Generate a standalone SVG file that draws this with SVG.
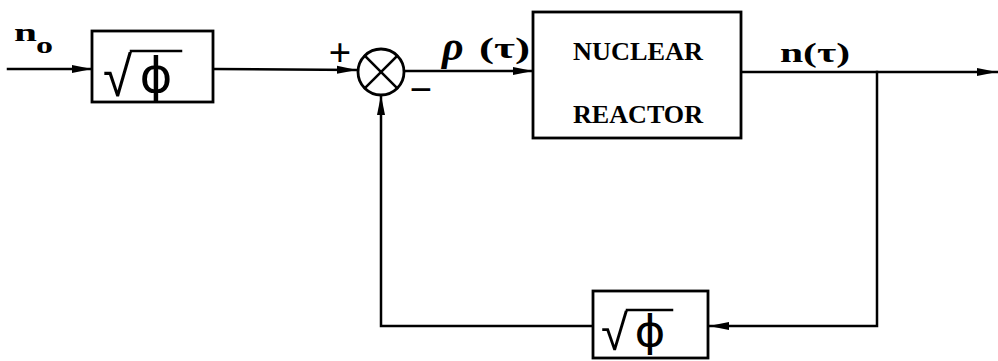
<svg xmlns="http://www.w3.org/2000/svg" width="998" height="361" viewBox="0 0 998 361">
<style>
.ln{fill:none;stroke:#000;stroke-width:2.5;stroke-linecap:square}
.bx{fill:#fff;stroke:#000;stroke-width:2.8}
.tw{font-family:"Liberation Serif","DejaVu Serif",serif;font-weight:bold;fill:#000}
.hw{font-family:"Liberation Sans","DejaVu Sans",sans-serif;fill:#000}
.ph{font-family:"DejaVu Sans","Liberation Sans",sans-serif;fill:#000}
</style>
<defs>
<marker id="ah" viewBox="0 0 20 10" refX="20" refY="5" markerWidth="20" markerHeight="10" markerUnits="userSpaceOnUse" orient="auto">
<path d="M0,1 L20,5 L0,9 Z" fill="#000"/>
</marker>
</defs>
<rect width="998" height="361" fill="#fff"/>
<g id="connectors">
<line class="ln" x1="8" y1="69" x2="92" y2="69" marker-end="url(#ah)"/>
<line class="ln" x1="213" y1="69" x2="357" y2="70" marker-end="url(#ah)"/>
<line class="ln" x1="404" y1="71" x2="533" y2="71" marker-end="url(#ah)"/>
<line class="ln" x1="741" y1="72" x2="997" y2="72" marker-end="url(#ah)"/>
<polyline class="ln" points="877,72 877,326 709,326" marker-end="url(#ah)"/>
<polyline class="ln" points="593,326 381,326 381,95" marker-end="url(#ah)"/>
</g>
<g id="input-label">
<text class="tw" x="14" y="41" font-size="26" textLength="23" lengthAdjust="spacingAndGlyphs">n</text>
<text class="tw" x="36" y="53" font-size="24" textLength="17" lengthAdjust="spacingAndGlyphs">o</text>
</g>
<g id="sqrt-phi-forward">
<rect class="bx" x="92" y="31" width="121" height="71"/>
<text class="hw" x="103" y="96" font-size="56" textLength="29" lengthAdjust="spacingAndGlyphs">√</text>
<line class="ln" x1="131" y1="51" x2="181" y2="51"/>
<text class="ph" x="156" y="92" font-size="48" text-anchor="middle" textLength="33" lengthAdjust="spacingAndGlyphs">ϕ</text>
</g>
<g id="summing-junction">
<circle cx="381" cy="72" r="23" fill="#fff" stroke="#000" stroke-width="2.8"/>
<line class="ln" x1="365" y1="56" x2="397" y2="88"/>
<line class="ln" x1="397" y1="56" x2="365" y2="88"/>
<text class="tw" x="340" y="66" font-size="40" text-anchor="middle">+</text>
<text class="tw" x="421" y="103" font-size="40" text-anchor="middle">−</text>
</g>
<g id="rho-label">
<text x="442" y="60" font-family="Liberation Serif, serif" font-style="italic" font-weight="bold" font-size="42">ρ</text>
<text x="479" y="58" font-family="Liberation Serif, serif" font-weight="bold" font-size="30" textLength="51" lengthAdjust="spacingAndGlyphs">(τ)</text>
</g>
<g id="nuclear-reactor">
<rect class="bx" x="533" y="12" width="208" height="126"/>
<text class="tw" x="638" y="60" font-size="26" text-anchor="middle" textLength="130" lengthAdjust="spacingAndGlyphs">NUCLEAR</text>
<text class="tw" x="638" y="123" font-size="26" text-anchor="middle" textLength="130" lengthAdjust="spacingAndGlyphs">REACTOR</text>
</g>
<g id="output-label">
<text class="tw" x="780" y="62" font-size="28" textLength="70" lengthAdjust="spacingAndGlyphs">n(τ)</text>
</g>
<g id="sqrt-phi-feedback">
<rect class="bx" x="593" y="291" width="115" height="67"/>
<text class="hw" x="601" y="350" font-size="50" textLength="27" lengthAdjust="spacingAndGlyphs">√</text>
<line class="ln" x1="627" y1="310" x2="672" y2="310"/>
<text class="ph" x="650" y="346" font-size="42" text-anchor="middle" textLength="31" lengthAdjust="spacingAndGlyphs">ϕ</text>
</g>
</svg>
